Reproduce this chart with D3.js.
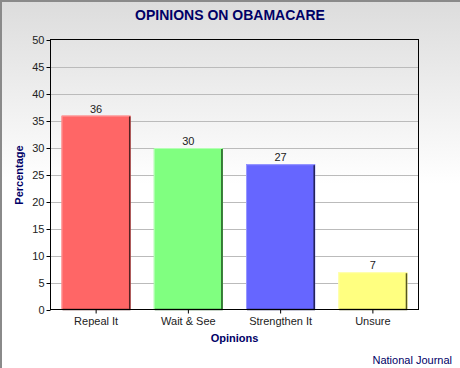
<!DOCTYPE html>
<html>
<head>
<meta charset="utf-8">
<script src="https://cdn.jsdelivr.net/npm/d3@7"></script>
<style>
  html, body { margin: 0; padding: 0; background: #fff; }
  svg { display: block; font-family: "Liberation Sans", Arial, sans-serif; }
</style>
</head>
<body>
<svg id="chart"></svg>
<script>
const categories = ["Repeal It", "Wait & See", "Strengthen It", "Unsure"];
const values = [36, 30, 27, 7];
const yTicks = [0, 5, 10, 15, 20, 25, 30, 35, 40, 45, 50];
const barColors = ["#ff6666", "#80ff80", "#6666ff", "#ffff80"];
const edgeLight = ["#ff9999", "#b3ffb3", "#9999ff", "#ffffb3"];
const edgeDark = ["#552222", "#225522", "#222255", "#555522"];

const width = 460, height = 368;
const margin = { top: 40, right: 41, bottom: 58, left: 50 };

const svg = d3.select("#chart")
    .attr("width", width)
    .attr("height", height);

// fondo con degradado
const grad = svg.append("defs").append("linearGradient")
    .attr("id", "bg")
    .attr("x1", 0).attr("y1", 0).attr("x2", 0).attr("y2", 1);
grad.append("stop").attr("offset", "0%").attr("stop-color", "#dcdcdc");
grad.append("stop").attr("offset", "50%").attr("stop-color", "#ffffff");
grad.append("stop").attr("offset", "100%").attr("stop-color", "#ffffff");

svg.append("rect")
    .attr("width", width).attr("height", height)
    .attr("fill", "url(#bg)");

// borde exterior
svg.append("path")
    .attr("d", `M1,${height} V1 H${width}`)
    .attr("fill", "none")
    .attr("stroke", "#8a8a8a")
    .attr("stroke-width", 2);

const x = d3.scaleBand()
    .domain(categories)
    .range([margin.left, width - margin.right])
    .paddingInner(0.25)
    .paddingOuter(0.125);

const y = d3.scaleLinear()
    .domain([0, 50])
    .range([height - margin.bottom, margin.top]);

// lineas de cuadricula
svg.append("g")
    .selectAll("line")
    .data(yTicks.slice(1, -1))
    .join("line")
    .attr("x1", margin.left)
    .attr("x2", width - margin.right)
    .attr("y1", d => Math.round(y(d)) + 0.5)
    .attr("y2", d => Math.round(y(d)) + 0.5)
    .attr("stroke", "#bbbbbb");

// barras
const bars = svg.append("g")
    .selectAll("g")
    .data(values)
    .join("g");

bars.append("rect")
    .attr("x", (d, i) => x(categories[i]))
    .attr("y", d => y(d))
    .attr("width", x.bandwidth())
    .attr("height", d => y(0) - y(d))
    .attr("fill", (d, i) => barColors[i]);

// borde claro izquierda / arriba
bars.append("path")
    .attr("d", (d, i) => `M${x(categories[i]) + 0.5},${y(0)} V${y(d) + 0.5} H${x(categories[i]) + x.bandwidth() - 1}`)
    .attr("fill", "none")
    .attr("stroke", (d, i) => edgeLight[i]);

// borde oscuro derecha / abajo
bars.append("path")
    .attr("d", (d, i) => `M${x(categories[i]) + x.bandwidth() - 1},${y(d) + 1} V${y(0) - 0.5} H${x(categories[i]) + 1}`)
    .attr("fill", "none")
    .attr("stroke", (d, i) => edgeDark[i])
    .attr("stroke-width", 1.5);

// etiquetas de valores
bars.append("text")
    .attr("x", (d, i) => x(categories[i]) + x.bandwidth() / 2)
    .attr("y", d => y(d) - 3)
    .attr("text-anchor", "middle")
    .style("font-size", "11px")
    .style("fill", "#222")
    .text(d => d);

// marco
svg.append("rect")
    .attr("x", margin.left + 0.5)
    .attr("y", margin.top - 0.5)
    .attr("width", width - margin.left - margin.right - 1)
    .attr("height", height - margin.top - margin.bottom)
    .attr("fill", "none")
    .attr("stroke", "#000");

// ejes
const yAxis = svg.append("g")
    .attr("transform", `translate(${margin.left + 0.5},0)`)
    .call(d3.axisLeft(y).tickValues(yTicks).tickSize(4).tickPadding(2));
const xAxis = svg.append("g")
    .attr("transform", `translate(0,${height - margin.bottom - 0.5})`)
    .call(d3.axisBottom(x).tickSize(4).tickPadding(4));

[yAxis, xAxis].forEach(a => {
    a.select(".domain").remove();
    a.selectAll("line").attr("stroke", "#000");
    a.selectAll("text")
        .style("font-size", "11px")
        .style("font-family", '"Liberation Sans", Arial, sans-serif')
        .style("fill", "#222");
});

// titulos
svg.append("text")
    .attr("x", 230).attr("y", 20)
    .attr("text-anchor", "middle")
    .style("font-size", "14px")
    .style("font-weight", "bold")
    .style("fill", "#000066")
    .text("OPINIONS ON OBAMACARE");

svg.append("text")
    .attr("transform", `translate(23,${(margin.top + height - margin.bottom) / 2}) rotate(-90)`)
    .attr("text-anchor", "middle")
    .style("font-size", "11px")
    .style("font-weight", "bold")
    .style("fill", "#000066")
    .text("Percentage");

svg.append("text")
    .attr("x", (margin.left + width - margin.right) / 2).attr("y", 342)
    .attr("text-anchor", "middle")
    .style("font-size", "11px")
    .style("font-weight", "bold")
    .style("fill", "#000066")
    .text("Opinions");

svg.append("text")
    .attr("x", 452).attr("y", 364)
    .attr("text-anchor", "end")
    .style("font-size", "11px")
    .style("fill", "#000066")
    .text("National Journal");
</script>
</body>
</html>
